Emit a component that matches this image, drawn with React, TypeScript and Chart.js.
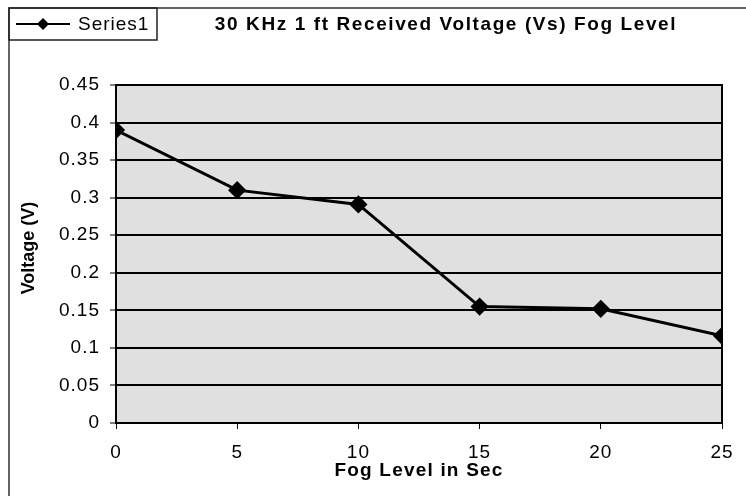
import React, { useEffect, useRef } from "react";
import { Chart, registerables } from "chart.js";

Chart.register(...registerables);

const fogLevels = [0, 5, 10, 15, 20, 25];
const voltages = [0.39, 0.31, 0.291, 0.155, 0.152, 0.116];
const yTickLabels = ["0", "0.05", "0.1", "0.15", "0.2", "0.25", "0.3", "0.35", "0.4", "0.45"];
const xTickLabels = ["0", "5", "10", "15", "20", "25"];
const seriesName = "Series1";
const chartTitle = "30 KHz 1 ft Received Voltage (Vs) Fog Level";
const xTitle = "Fog Level in Sec";
const yTitle = "Voltage (V)";

const FONT = "'Liberation Sans', Arial, sans-serif";

const decorPlugin = {
  id: "decor",
  beforeDraw(chart: any) {
    const { ctx, chartArea: a } = chart;
    ctx.save();
    ctx.fillStyle = "#ffffff";
    ctx.fillRect(0, 0, chart.width, chart.height);
    ctx.fillStyle = "#e0e0e0";
    ctx.fillRect(a.left, a.top, a.right - a.left, a.bottom - a.top);
    ctx.restore();
    (ctx as any).letterSpacing = "1px";
  },
  afterDraw(chart: any) {
    const { ctx, chartArea: a } = chart;
    (ctx as any).letterSpacing = "0px";
    ctx.save();
    // plot border
    ctx.strokeStyle = "#000";
    ctx.lineWidth = 2;
    ctx.strokeRect(a.left, a.top, a.right - a.left, a.bottom - a.top);
    // outer border
    ctx.strokeStyle = "#333";
    ctx.lineWidth = 1.5;
    ctx.beginPath();
    ctx.moveTo(9, chart.height);
    ctx.lineTo(9, 8);
    ctx.lineTo(chart.width, 8);
    ctx.stroke();
    // legend box
    ctx.lineWidth = 1.5;
    ctx.strokeStyle = "#222";
    ctx.strokeRect(9, 8, 148, 32);
    ctx.strokeStyle = "#000";
    ctx.lineWidth = 2;
    ctx.beginPath();
    ctx.moveTo(16, 24);
    ctx.lineTo(70, 24);
    ctx.stroke();
    ctx.fillStyle = "#000";
    ctx.beginPath();
    ctx.moveTo(43, 18);
    ctx.lineTo(49, 24);
    ctx.lineTo(43, 30);
    ctx.lineTo(37, 24);
    ctx.closePath();
    ctx.fill();
    ctx.font = `19px ${FONT}`;
    ctx.textBaseline = "middle";
    ctx.textAlign = "left";
    (ctx as any).letterSpacing = "1px";
    ctx.fillText(seriesName, 78, 25);
    // title
    ctx.font = `bold 19px ${FONT}`;
    ctx.textAlign = "center";
    (ctx as any).letterSpacing = "1.6px";
    ctx.fillText(chartTitle, 446, 25);
    // x title
    (ctx as any).letterSpacing = "1.2px";
    ctx.fillText(xTitle, (a.left + a.right) / 2, 471);
    // y title
    ctx.font = `bold 18px ${FONT}`;
    (ctx as any).letterSpacing = "0px";
    ctx.translate(29, 248);
    ctx.rotate(-Math.PI / 2);
    ctx.fillText(yTitle, 0, 0);
    ctx.restore();
  },
};

export default function App() {
  const ref = useRef<HTMLCanvasElement>(null);
  useEffect(() => {
    const chart = new Chart(ref.current!, {
      type: "line",
      data: {
        datasets: [
          {
            label: seriesName,
            data: fogLevels.map((x, i) => ({ x, y: voltages[i] })),
            borderColor: "#000",
            backgroundColor: "#000",
            borderWidth: 3,
            pointStyle: "rectRot",
            pointRadius: 7,
            pointBackgroundColor: "#000",
            pointBorderColor: "#000",
            tension: 0,
          },
        ],
      },
      options: {
        animation: false,
        responsive: false,
        layout: { padding: { top: 85, left: 8, right: 24, bottom: 0 } },
        plugins: { legend: { display: false }, title: { display: false }, tooltip: { enabled: false } },
        scales: {
          x: {
            type: "linear",
            min: 0,
            max: 25,
            afterFit: (s: any) => { s.height = 73; },
            afterBuildTicks: (s: any) => { s.ticks = fogLevels.map((v) => ({ value: v })); },
            ticks: {
              padding: 12,
              color: "#000",
              font: { family: FONT, size: 19 },
              callback: (v: any, i: number) => xTickLabels[i],
              maxRotation: 0,
            },
            grid: { drawOnChartArea: false, drawTicks: true, tickLength: 6, color: "#000", tickWidth: 1 },
            border: { display: false },
          },
          y: {
            type: "linear",
            min: 0,
            max: 0.45,
            afterFit: (s: any) => { s.width = 108; },
            afterBuildTicks: (s: any) => { s.ticks = yTickLabels.map((t) => ({ value: parseFloat(t) })); },
            ticks: {
              padding: 10,
              color: "#000",
              font: { family: FONT, size: 19 },
              callback: (v: any, i: number) => yTickLabels[i],
            },
            grid: { color: "#000", lineWidth: 2, tickLength: 6, tickWidth: 1 },
            border: { display: false },
          },
        },
      },
      plugins: [decorPlugin],
    } as any);
    return () => chart.destroy();
  }, []);
  return (
    <div style={{ position: "fixed", left: 0, top: 0, width: 746, height: 496 }}>
      <canvas ref={ref} width={746} height={496} style={{ display: "block" }} />
    </div>
  );
}
